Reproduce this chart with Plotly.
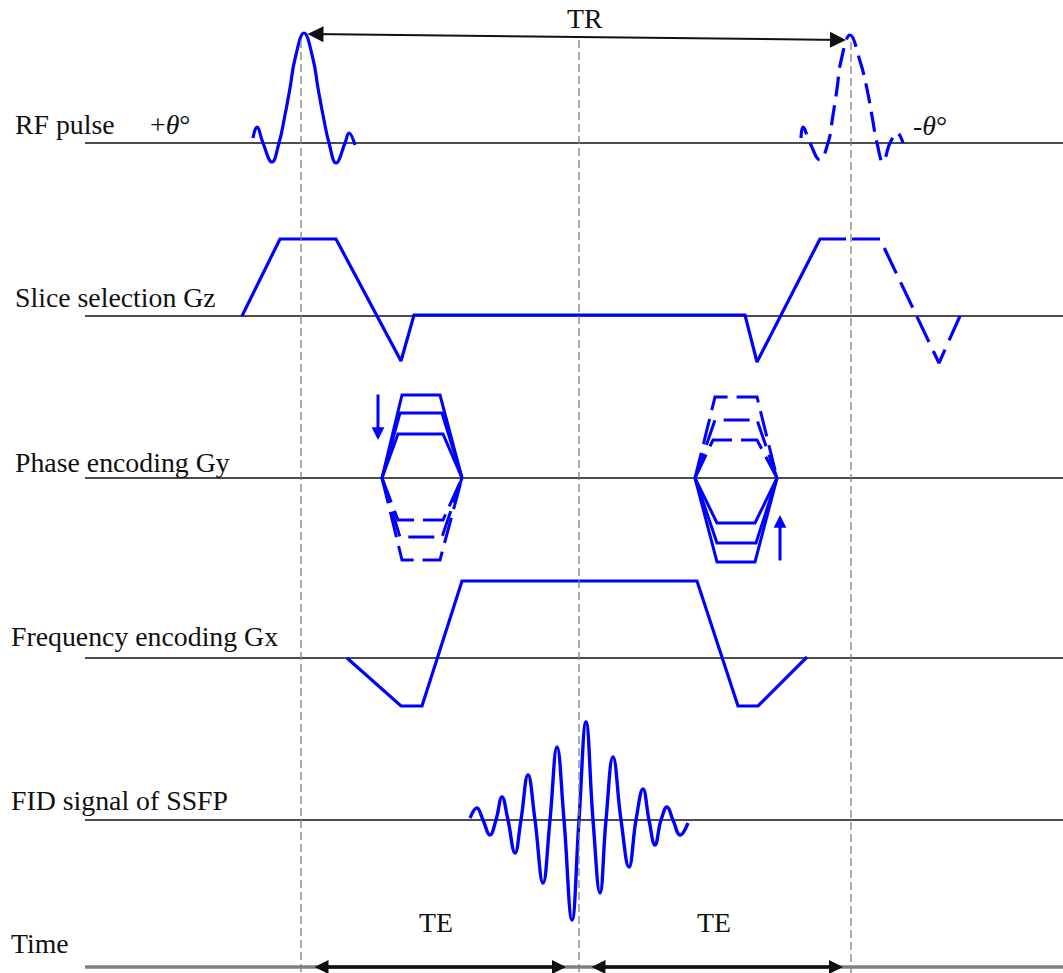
import plotly.graph_objects as go

W, H = 1063, 973
BLUE = "#0000ff"
INK = "#111111"
GUIDE = "#808080"
FONT = "Liberation Serif, Times New Roman, serif"
FS = 27.8

# ---- channel rows (screen rows, top down) ----
ROW_LABELS = ["RF pulse", "Slice selection Gz", "Phase encoding Gy",
              "Frequency encoding Gx", "FID signal of SSFP", "Time"]
ROW_LABEL_X = [13, 13, 13, 9, 9, 9]
ROW_LABEL_Y = [124, 297, 462, 636, 800, 943]
ROW_BASE = [143, 316, 478, 658, 820, 967]
LINE_START = 85

# ---- timing events: RF1 centre, echo centre, RF2 centre ----
T_EVENTS = [301, 579, 851]
EVENT_TOP = [40, 40, 42]

# ---- RF pulses (time, amplitude above the zero line) ----
RF1_T = [253, 257, 263, 272, 279, 285, 290, 295, 304, 313, 318, 323, 329, 336, 345, 349, 355]
RF1_A = [5, 16, 0, -19, 0, 28, 55, 84, 110, 84, 55, 28, 0, -20, 0, 10, -2]
RF2_T = [801, 803, 810, 820, 828, 833, 837, 841, 850, 860, 867, 872, 877, 883, 890, 897, 903]
RF2_A = [5, 16, 0, -17, 0, 28, 54, 82, 108, 82, 54, 27, 0, -19, 0, 10, 0]

# ---- slice-select gradient Gz ----
GZ_SOLID_T = [242, 280, 336, 401, 414, 745, 757, 820, 846]
GZ_SOLID_A = [0, 77, 77, -45, 1, 1, -46, 77, 77]
GZ_DASH_T = [852, 880, 939, 960]
GZ_DASH_A = [77, 77, -47, 0]

# ---- phase-encode gradient Gy: lobe edges, plateau levels and corners ----
GY1_EDGE = [382, 462]
GY1_POS_AMP = [83, 65, 44]
GY1_POS_L = [402, 400, 398]
GY1_POS_R = [440, 442, 443]
GY1_NEG_AMP = [-42, -59, -82]
GY1_NEG_L = [398, 400, 402]
GY1_NEG_R = [443, 442, 440]

GY2_EDGE = [695, 777]
GY2_NEG_AMP = [-45, -65, -84]
GY2_NEG_L = [717, 717, 717]
GY2_NEG_R = [755, 756, 755]
GY2_POS_AMP = [38, 58, 81]
GY2_POS_L = [713, 715, 715]
GY2_POS_R = [757, 757, 757]

# ---- frequency-encode gradient Gx ----
GX_T = [347, 401, 422, 462, 697, 738, 758, 807]
GX_A = [0, -48, -48, 77, 77, -48, -48, 1]

# ---- echo signal ----
FID_T = [470, 477, 483, 490, 496, 502, 508, 515, 521, 528, 535, 543, 550, 557,
         564, 572, 579, 586, 593, 600, 606, 613, 621, 629, 636, 643, 649, 655,
         661, 667, 673, 680, 688]
FID_A = [2, 12, 0, -15, 0, 23, 0, -33, 0, 45, 0, -63, 0, 73,
         0, -100, 0, 98, 0, -73, 0, 63, 0, -47, 0, 31, 0, -25,
         0, 13, 0, -15, -3]

# ---- interval markers ----
TR_T = [306, 846]
TR_Y = [34, 40]
TE_T = [[313, 566], [590, 843]]
TE_LABEL_T = [436, 714]
TE_LABEL_Y = 922


def rows(base, amps):
    return [base - a for a in amps]


fig = go.Figure()


def add_line(xs, ys, color=BLUE, width=3.2, dash="solid", shape="linear"):
    line = dict(color=color, width=width, dash=dash, shape=shape)
    if shape == "spline":
        line["smoothing"] = 1.3
    fig.add_trace(go.Scatter(x=xs, y=ys, mode="lines", line=line,
                             hoverinfo="skip", showlegend=False))


# zero lines of each channel
for base in ROW_BASE[:-1]:
    add_line([LINE_START, W], [base, base], color=INK, width=1.6)
# time axis
add_line([LINE_START, W], [ROW_BASE[-1], ROW_BASE[-1]], color=GUIDE, width=3.5)

# RF pulses
add_line(RF1_T, rows(ROW_BASE[0], RF1_A), shape="spline")
add_line(RF2_T, rows(ROW_BASE[0], RF2_A), shape="spline", dash="20px,9px")

# Gz
add_line(GZ_SOLID_T, rows(ROW_BASE[1], GZ_SOLID_A))
add_line(GZ_DASH_T, rows(ROW_BASE[1], GZ_DASH_A), dash="28px,10px")


def trapezoids(edge, amps, lefts, rights, dash):
    for a, l, r in zip(amps, lefts, rights):
        add_line([edge[0], l, r, edge[1]], rows(ROW_BASE[2], [0, a, a, 0]),
                 dash=dash, width=3)


trapezoids(GY1_EDGE, GY1_POS_AMP, GY1_POS_L, GY1_POS_R, "solid")
trapezoids(GY1_EDGE, GY1_NEG_AMP, GY1_NEG_L, GY1_NEG_R, "26px,9px")
trapezoids(GY2_EDGE, GY2_NEG_AMP, GY2_NEG_L, GY2_NEG_R, "solid")
trapezoids(GY2_EDGE, GY2_POS_AMP, GY2_POS_L, GY2_POS_R, "26px,9px")

# Gx
add_line(GX_T, rows(ROW_BASE[3], GX_A))

# echo
add_line(FID_T, rows(ROW_BASE[4], FID_A), shape="spline", width=3.4)

# event guides
for t, top in zip(T_EVENTS, EVENT_TOP):
    add_line([t, t], [top, H], color=GUIDE, width=1.3, dash="8px,4px")

annotations = []


def arrow(x0, y0, x1, y1, width, size, color=INK, both=True):
    annotations.append(dict(
        x=x1, y=y1, ax=x0, ay=y0, xref="x", yref="y", axref="x", ayref="y",
        text="", showarrow=True, arrowhead=2, startarrowhead=2,
        arrowside="end+start" if both else "end",
        arrowwidth=width, arrowsize=size, startarrowsize=size,
        arrowcolor=color, standoff=0, startstandoff=0))


arrow(TR_T[0], TR_Y[0], TR_T[1], TR_Y[1], 2, 1.6)
for a, b in TE_T:
    arrow(a, ROW_BASE[-1], b, ROW_BASE[-1], 3.5, 0.8)

# phase-step direction arrows
arrow(378, 393, 378, 440, 3, 0.85, color=BLUE, both=False)
arrow(780, 562, 780, 515, 3, 0.85, color=BLUE, both=False)


def label(x, y, text, anchor="left"):
    annotations.append(dict(
        x=x, y=y, xref="x", yref="y", text=text, showarrow=False,
        xanchor=anchor, yanchor="middle",
        font=dict(family=FONT, size=FS, color=INK)))


for name, lx, ly in zip(ROW_LABELS, ROW_LABEL_X, ROW_LABEL_Y):
    label(lx, ly, name)
label(148, 124, "+<i>θ</i>°")
label(911, 125, "-<i>θ</i>°")
label(585, 18, "TR", anchor="center")
for t in TE_LABEL_T:
    label(t, TE_LABEL_Y, "TE", anchor="center")

fig.update_layout(
    width=W, height=H, margin=dict(l=0, r=0, t=0, b=0),
    paper_bgcolor="white", plot_bgcolor="white",
    xaxis=dict(range=[0, W], visible=False, fixedrange=True),
    yaxis=dict(range=[H, 0], visible=False, fixedrange=True),
    annotations=annotations, showlegend=False)

fig.write_html("out.html")
